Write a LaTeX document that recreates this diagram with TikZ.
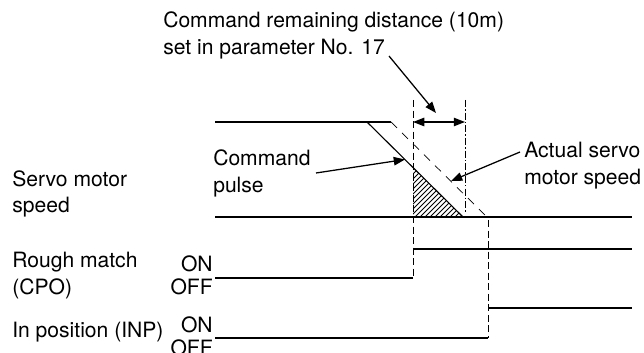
\documentclass[tikz,border=0pt]{standalone}
\usepackage{fontspec}
\setmainfont{TeX Gyre Heros}
\usetikzlibrary{arrows.meta}

\begin{document}
\begin{tikzpicture}[x=0.025cm, y=-0.025cm, line join=round,
  lbl/.style={inner sep=0pt, align=left, font=\fontsize{15}{19.2}\selectfont},
  sig/.style={line width=0.8pt},
  guide/.style={line width=0.7pt, dash pattern=on 5pt off 2.5pt},
  ptr/.style={line width=0.9pt, -{Triangle[length=8pt,width=6pt]}}]
  \useasboundingbox (0,0) rectangle (644,353);

  % Speed curves (pixel grid, y downwards)
  \coordinate (spTopL) at (215,122);
  \coordinate (actTop) at (391,122);   % actual speed starts falling
  \coordinate (cmdTop) at (367,122);   % command starts falling
  \coordinate (cmdMid) at (413,167.5); % command at the first guide
  \coordinate (cmdEnd) at (463,217);
  \coordinate (actEnd) at (487,217);
  \coordinate (spBaseL) at (215,217);
  \coordinate (spBaseR) at (632,217);
  \coordinate (hatchC) at (413,217);

  % Remaining distance shown as hatched area
  \begin{scope}
    \clip (cmdMid) -- (hatchC) -- (cmdEnd) -- cycle;
    \foreach \hx in {360,365,...,470}
      \draw[line width=0.6pt] (\hx,217) -- ++(60,-60);
  \end{scope}

  \draw[sig] (spTopL) -- (actTop);
  \draw[sig] (cmdTop) -- (cmdEnd);
  \draw[sig] (spBaseL) -- (spBaseR);
  \draw[line width=0.5pt, dash pattern=on 6pt off 5pt] (actTop) -- (actEnd);

  % Guides
  \coordinate (g1T) at (413,100);
  \coordinate (g1B) at (413,278);
  \coordinate (g2T) at (465,100);
  \coordinate (g2B) at (465,212);
  \coordinate (g3T) at (488,220);
  \coordinate (g3B) at (488,338);
  \draw[guide] (g1T) -- (g1B);
  \draw[line width=0.6pt, dash pattern=on 5pt off 1.5pt on 1pt off 1.5pt] (g2T) -- (g2B);
  \draw[guide] (g3T) -- (g3B);

  % Remaining distance width
  \coordinate (dL) at (413,122);
  \coordinate (dR) at (465,122);
  \draw[line width=0.9pt, {Triangle[length=8pt,width=6pt]}-{Triangle[length=8pt,width=6pt]}] (dL) -- (dR);

  % Rough match (CPO)
  \coordinate (cpoOffL) at (215,278);
  \coordinate (cpoOnL) at (413,249);
  \coordinate (cpoOnR) at (632,249);
  \draw[sig] (cpoOffL) -- (g1B);
  \draw[sig] (cpoOnL) -- (cpoOnR);

  % In position (INP)
  \coordinate (inpOffL) at (215,338);
  \coordinate (inpOnL) at (488,308);
  \coordinate (inpOnR) at (632,308);
  \draw[sig] (inpOffL) -- (g3B);
  \draw[sig] (inpOnL) -- (inpOnR);

  % Labels (base = last line)
  \node[lbl, anchor=base west] (title) at (163,55)
    {Command remaining distance (10m)\\set in parameter No. 17};
  \node[lbl, anchor=base west] (spd) at (12,213) {Servo motor\\speed};
  \node[lbl, anchor=base west] (pulse) at (213,193) {Command\\pulse};
  \node[lbl, anchor=base west] (actual) at (524,185) {Actual servo\\motor speed};
  \node[lbl, anchor=base west] (cpo) at (12,294) {Rough match\\(CPO)};
  \node[lbl, anchor=base west] (inp) at (12,337) {In position (INP)};
  \node[lbl, anchor=base east] (cpoOn) at (213,272) {ON};
  \node[lbl, anchor=base east] (cpoOff) at (213,295) {OFF};
  \node[lbl, anchor=base east] (inpOn) at (213,332) {ON};
  \node[lbl, anchor=base east] (inpOff) at (213,355) {OFF};

  % Pointers
  \coordinate (titleTip) at (389,56);
  \coordinate (pulseTip) at (316,173);
  \coordinate (actTip) at (520,152);
  \draw[ptr] (titleTip) -- (436,113);
  \draw[ptr] (pulseTip) -- (405,159.5);
  \draw[ptr] (actTip) -- (451,181);
\end{tikzpicture}
\end{document}
